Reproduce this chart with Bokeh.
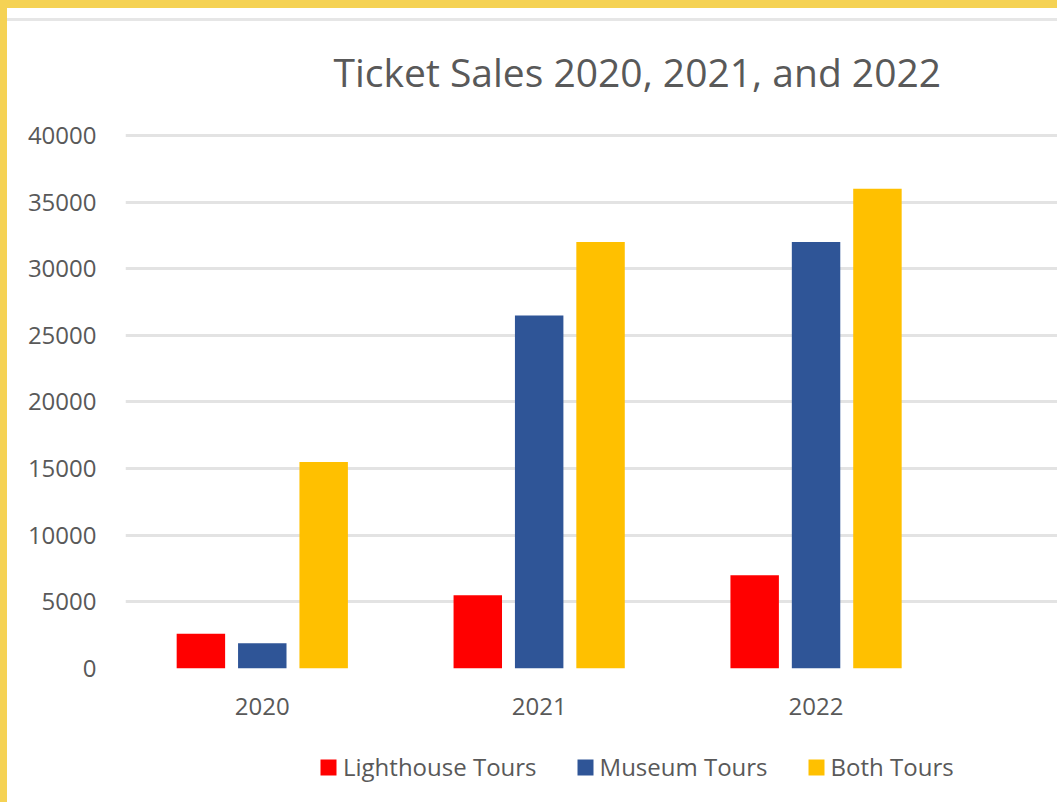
from bokeh.plotting import figure
from bokeh.layouts import column
from bokeh.models import (ColumnDataSource, Range1d, FixedTicker, GlobalInlineStyleSheet,
                          Legend, LegendItem)
from bokeh.transform import dodge
from bokeh.embed import file_html
from bokeh.resources import INLINE

years = ["2020", "2021", "2022"]
lighthouse = [2600, 5500, 7000]
museum = [1900, 26500, 32000]
both = [15500, 32000, 36000]
series_names = ["Lighthouse Tours", "Museum Tours", "Both Tours"]
colors = ["#FF0000", "#2F5597", "#FFC000"]
y_ticks = [0, 5000, 10000, 15000, 20000, 25000, 30000, 35000, 40000]

FONT = "Open Sans"
TXT = "#595959"

xpos = list(range(len(years)))
source = ColumnDataSource(data=dict(x=xpos, lighthouse=lighthouse, museum=museum, both=both))

page_css = GlobalInlineStyleSheet(css="""
body {
  background-color: #ffffff;
  background-image:
    linear-gradient(to bottom, #F5D254 8px, transparent 8px),
    linear-gradient(to right, #F5D254 7px, transparent 7px),
    linear-gradient(to bottom, transparent 18px, #e6e6e6 18px, #e6e6e6 21px, transparent 21px);
  background-repeat: no-repeat;
}
""")

p = figure(width=1057, height=740, output_backend="svg", toolbar_location=None,
           x_range=Range1d(-0.494, 2.872), y_range=Range1d(0, 40300),
           min_border_left=125, min_border_right=0, min_border_top=131, min_border_bottom=72,
           border_fill_color=None, background_fill_color="white", outline_line_color=None,
           stylesheets=[page_css])

p.title.text = "Ticket Sales 2020, 2021, and 2022"
p.title.text_font = FONT
p.title.text_font_size = "39px"
p.title.text_font_style = "normal"
p.title.text_color = TXT
p.title.align = "left"
p.title.offset = 208
p.title.standoff = 68

width = 0.175
offsets = [-0.2217, 0.0, 0.2217]
fields = ["lighthouse", "museum", "both"]
for f, off, c in zip(fields, offsets, colors):
    p.vbar(x=dodge("x", off), top=f, width=width, bottom=0, source=source,
           fill_color=c, line_color=None)

p.xaxis.ticker = FixedTicker(ticks=xpos)
p.xaxis.major_label_overrides = {i: y for i, y in zip(xpos, years)}
p.yaxis.ticker = FixedTicker(ticks=y_ticks)
for ax in (p.xaxis[0], p.yaxis[0]):
    ax.axis_line_color = None
    ax.major_tick_line_color = None
    ax.minor_tick_line_color = None
    ax.major_label_text_font = FONT
    ax.major_label_text_font_size = "24px"
    ax.major_label_text_color = TXT
p.yaxis.major_label_standoff = 23
p.xaxis.major_label_standoff = 23

p.xgrid.grid_line_color = None
p.ygrid.grid_line_color = "#e3e3e3"
p.ygrid.grid_line_width = 3

# legend strip: same series, drawn outside this strip's visible x range so that
# only the legend entries show
pl = figure(width=1057, height=62, output_backend="svg", toolbar_location=None,
            x_range=Range1d(-20, -19), y_range=Range1d(0, 40300),
            x_axis_type=None, y_axis_type=None, min_border=0,
            border_fill_color=None, background_fill_color=None, outline_line_color=None)
pl.xgrid.visible = False
pl.ygrid.visible = False
items = []
for f, off, c, name in zip(fields, offsets, colors, series_names):
    r = pl.vbar(x=dodge("x", off), top=f, width=width, bottom=0, source=source,
                fill_color=c, line_color=None)
    items.append(LegendItem(label=name, renderers=[r]))

lg = Legend(items=items)
lg.orientation = "horizontal"
lg.location = (193, 19)
lg.border_line_color = None
lg.background_fill_color = None
lg.padding = 0
lg.margin = 0
lg.spacing = 38
lg.glyph_width = 20
lg.glyph_height = 20
lg.label_standoff = 5
lg.label_text_font = FONT
lg.label_text_font_size = "24px"
lg.label_text_color = TXT
pl.add_layout(lg, "center")

layout = column(p, pl, spacing=0)
open("out.html", "w").write(file_html(layout, INLINE))
